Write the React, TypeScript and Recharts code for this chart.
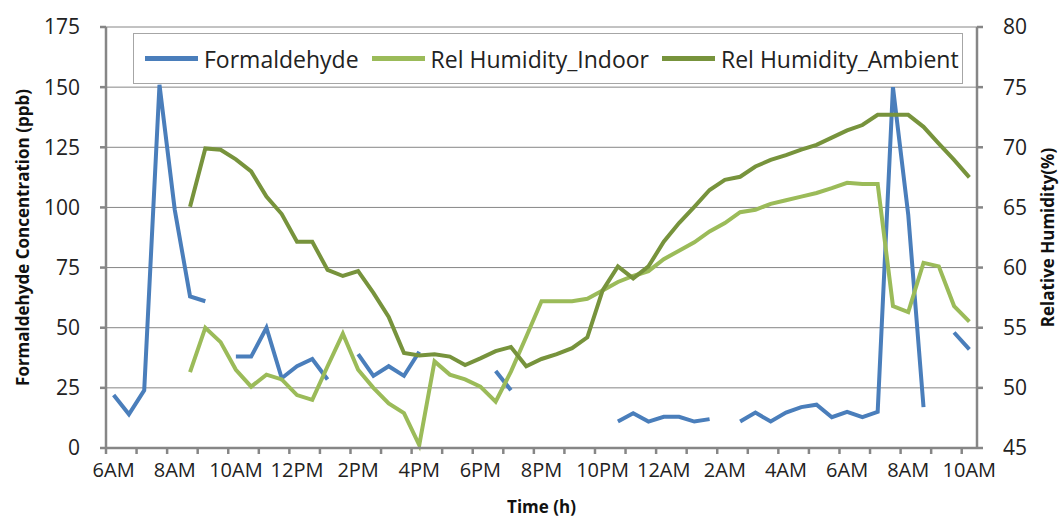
import React from 'react';
import { LineChart, Line, XAxis, YAxis, CartesianGrid, Legend } from 'recharts';

// half-hour readings, 6AM day 1 -> 10AM day 2
const times = [
  '6AM', '6:30AM', '7AM', '7:30AM', '8AM', '8:30AM', '9AM', '9:30AM', '10AM', '10:30AM',
  '11AM', '11:30AM', '12PM', '12:30PM', '1PM', '1:30PM', '2PM', '2:30PM', '3PM', '3:30PM',
  '4PM', '4:30PM', '5PM', '5:30PM', '6PM', '6:30PM', '7PM', '7:30PM', '8PM', '8:30PM',
  '9PM', '9:30PM', '10PM', '10:30PM', '11PM', '11:30PM', '12AM', '12:30AM', '1AM', '1:30AM',
  '2AM', '2:30AM', '3AM', '3:30AM', '4AM', '4:30AM', '5AM', '5:30AM', '6AM', '6:30AM',
  '7AM', '7:30AM', '8AM', '8:30AM', '9AM', '9:30AM', '10AM',
];

const formaldehyde = [
  22, 14, 24, 151, 99, 63, 61, null, 38, 38,
  50, 29, 34, 37, 28.5, null, 39, 30, 34, 30,
  40, null, null, null, null, 32, 24, null, null, null,
  null, null, null, 11, 14.4, 11, 13, 13, 11, 12,
  null, 11, 14.7, 11, 14.7, 17, 18, 12.8, 15, 12.8,
  15, 150, 97, 17, null, 48, 41,
];

const rhIndoor = [
  null, null, null, null, null, 51.3, 55, 53.8, 51.5, 50.1,
  51.1, 50.7, 49.4, 49, 51.8, 54.5, 51.5, 50, 48.7, 47.9,
  45.25, 52.2, 51.1, 50.7, 50.1, 48.85, 51.35, 54.25, 57.2, 57.2,
  57.2, 57.4, 58.1, 58.8, 59.3, 59.7, 60.7, 61.4, 62.1, 63,
  63.7, 64.6, 64.8, 65.3, 65.6, 65.9, 66.2, 66.6, 67.05, 66.95,
  66.95, 56.8, 56.3, 60.4, 60.1, 56.8, 55.5,
];

const rhAmbient = [
  null, null, null, null, null, 65.05, 69.9, 69.8, 69, 68,
  65.9, 64.45, 62.15, 62.15, 59.8, 59.3, 59.7, 57.9, 55.9, 52.9,
  52.7, 52.8, 52.6, 51.9, 52.45, 53.05, 53.4, 51.8, 52.4, 52.8,
  53.3, 54.2, 58.1, 60.1, 59.1, 60.1, 62.15, 63.7, 65.05, 66.45,
  67.3, 67.55, 68.4, 68.95, 69.35, 69.8, 70.2, 70.8, 71.4, 71.85,
  72.7, 72.7, 72.7, 71.7, 70.3, 68.95, 67.5,
];

const leftTicks = [0, 25, 50, 75, 100, 125, 150, 175];
const rightTicks = [45, 50, 55, 60, 65, 70, 75, 80];
const seriesOrder = ['Formaldehyde', 'Rel Humidity_Indoor', 'Rel Humidity_Ambient'];

// slot = unique key per reading (day 2 repeats the clock labels)
const data = times.map((t, i) => ({
  slot: `${i < 36 ? 'd1' : 'd2'} ${t}`,
  label: t,
  formaldehyde: formaldehyde[i],
  indoor: rhIndoor[i],
  ambient: rhAmbient[i],
}));

const FONT = '"Open Sans", sans-serif';
const AXIS = '#868686';
const PLOT_W = 871;
const HALF_BAND = PLOT_W / times.length / 2;

const TimeTick = (props: any) => {
  const { x, y, index } = props;
  return (
    <g>
      {index % 2 === 0 && (
        <line x1={x - HALF_BAND} x2={x - HALF_BAND} y1={y} y2={y + 6} stroke={AXIS} strokeWidth={2.5} />
      )}
      {index % 4 === 0 && (
        <text x={x} y={y + 29} textAnchor="middle" fontSize={20} fill="#222" fontFamily={FONT}>
          {times[index]}
        </text>
      )}
    </g>
  );
};

const renderLegend = (props: any) => {
  const items = [...(props.payload || [])].sort(
    (a: any, b: any) => seriesOrder.indexOf(a.value) - seriesOrder.indexOf(b.value),
  );
  return (
    <div
      style={{
        display: 'flex',
        alignItems: 'center',
        height: 51,
        boxSizing: 'border-box',
        paddingLeft: 11,
        border: '1px solid #a6a6a6',
        background: '#fff',
        fontFamily: FONT,
        fontSize: 23,
        color: '#222',
        whiteSpace: 'nowrap',
      }}
    >
      {items.map((item: any) => (
        <div key={item.value} style={{ display: 'flex', alignItems: 'center', marginRight: 13 }}>
          <span style={{ display: 'inline-block', width: 53, height: 5, background: item.color, marginRight: 6 }} />
          <span>{item.value}</span>
        </div>
      ))}
    </div>
  );
};

const titleStyle = { fontFamily: FONT, fontSize: 17, fontWeight: 700, fill: '#111' };

export default function App() {
  return (
    <div style={{ position: 'absolute', left: 0, top: 0, width: 1061, height: 520, background: '#fff' }}>
      <LineChart width={1061} height={520} data={data} margin={{ top: 27, right: 0, bottom: 0, left: 0 }}>
        <CartesianGrid yAxisId="left" vertical={false} stroke={AXIS} strokeWidth={1} />
        <XAxis
          dataKey="slot"
          scale="band"
          interval={0}
          height={72}
          tickLine={false}
          tickSize={0}
          tickMargin={0}
          tick={<TimeTick />}
          axisLine={{ stroke: AXIS, strokeWidth: 2.5 }}
          label={{ value: 'Time (h)', position: 'insideBottom', offset: 7, style: titleStyle }}
        />
        <YAxis
          yAxisId="left"
          width={106}
          domain={[0, 175]}
          ticks={leftTicks}
          interval={0}
          tickSize={6}
          tickMargin={20}
          tick={{ fontSize: 21, fill: '#222', fontFamily: FONT }}
          tickLine={{ stroke: AXIS, strokeWidth: 2.5 }}
          axisLine={{ stroke: AXIS, strokeWidth: 2.5 }}
          label={{
            value: 'Formaldehyde Concentration (ppb)',
            angle: -90,
            position: 'insideLeft',
            offset: 23,
            style: { ...titleStyle, textAnchor: 'middle' },
          }}
        />
        <YAxis
          yAxisId="right"
          orientation="right"
          width={84}
          domain={[45, 80]}
          ticks={rightTicks}
          interval={0}
          tickSize={6}
          tickMargin={20}
          tick={{ fontSize: 21, fill: '#222', fontFamily: FONT }}
          tickLine={{ stroke: AXIS, strokeWidth: 2.5 }}
          axisLine={{ stroke: AXIS, strokeWidth: 2.5 }}
          label={{
            value: 'Relative Humidity(%)',
            angle: -90,
            position: 'insideRight',
            offset: 13,
            style: { ...titleStyle, textAnchor: 'middle' },
          }}
        />
        <Legend
          content={renderLegend}
          layout="horizontal"
          verticalAlign="middle"
          align="center"
          wrapperStyle={{ top: 33, left: 133, width: 830, height: 51 }}
        />
        <Line
          yAxisId="left"
          type="linear"
          dataKey="formaldehyde"
          name="Formaldehyde"
          stroke="#4a7ebb"
          strokeWidth={4}
          dot={false}
          isAnimationActive={false}
        />
        <Line
          yAxisId="right"
          type="linear"
          dataKey="indoor"
          name="Rel Humidity_Indoor"
          stroke="#9bbb59"
          strokeWidth={4}
          dot={false}
          isAnimationActive={false}
        />
        <Line
          yAxisId="right"
          type="linear"
          dataKey="ambient"
          name="Rel Humidity_Ambient"
          stroke="#77933c"
          strokeWidth={4}
          dot={false}
          isAnimationActive={false}
        />
      </LineChart>
    </div>
  );
}
